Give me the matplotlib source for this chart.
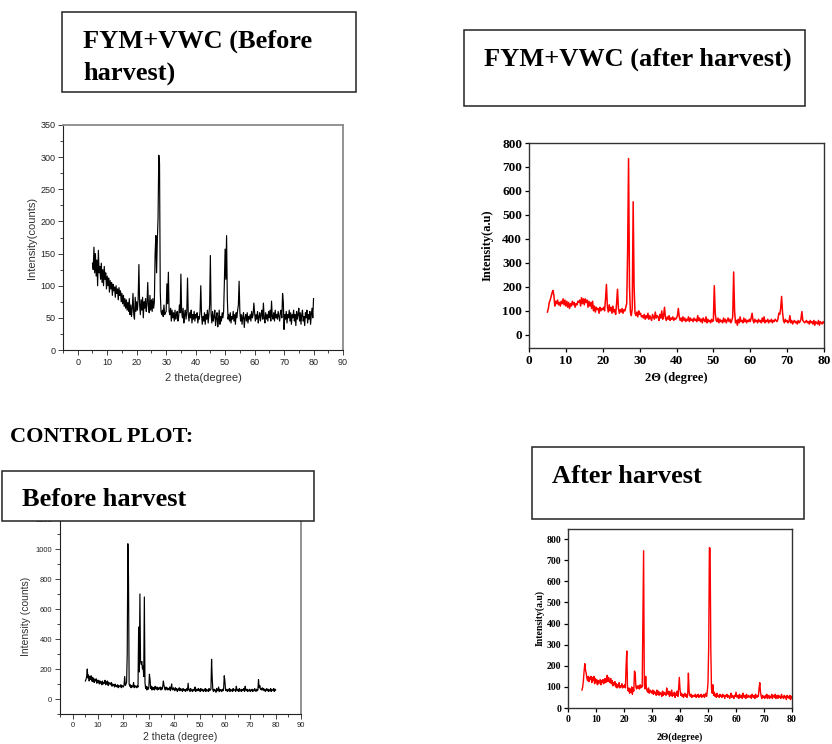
import matplotlib.pyplot as plt
from matplotlib.patches import Rectangle
from matplotlib.ticker import MultipleLocator
import numpy as np

W, H = 832, 744

# 2theta grid of the scans: starts at 5 deg, one value every 0.25 deg up to 80
theta_start = 5.0
theta_step = 0.25

# --- FYM+VWC, before harvest (one row = 5 degrees) ---
fym_before = [
    135, 125, 160, 120, 150, 115, 140, 100, 155, 120, 130, 110, 135, 105, 125, 100, 130, 110, 120, 95,
    115, 100, 112, 90, 108, 95, 105, 85, 102, 92, 98, 82, 100, 88, 95, 78, 97, 85, 92, 75,
    88, 72, 85, 68, 80, 65, 78, 62, 74, 60, 80, 55, 70, 52, 65, 88, 55, 48, 82, 60,
    75, 62, 80, 133, 70, 55, 78, 62, 82, 50, 75, 65, 80, 60, 72, 105, 68, 58, 85, 62,
    78, 60, 80, 65, 75, 150, 178, 120, 170, 205, 303, 290, 90, 60, 55, 62, 52, 70, 55, 58,
    60, 103, 72, 121, 60, 55, 65, 45, 62, 50, 58, 45, 62, 48, 55, 60, 45, 52, 70, 58,
    118, 60, 50, 65, 42, 55, 62, 48, 60, 112, 55, 45, 58, 50, 62, 42, 55, 48, 60, 45,
    55, 50, 58, 42, 52, 48, 60, 100, 55, 40, 52, 45, 58, 40, 55, 48, 62, 42, 55, 70,
    147, 55, 42, 60, 45, 52, 62, 38, 50, 58, 36, 48, 62, 40, 52, 45, 58, 50, 60, 105,
    157, 110, 178, 80, 48, 55, 45, 58, 42, 52, 48, 60, 45, 55, 40, 58, 50, 62, 70, 107,
    60, 45, 55, 40, 52, 58, 35, 50, 55, 45, 58, 42, 52, 48, 55, 45, 60, 50, 55, 73,
    58, 45, 55, 48, 60, 42, 52, 58, 45, 55, 62, 48, 73, 50, 42, 58, 48, 55, 45, 60,
    50, 62, 45, 76, 52, 48, 58, 45, 62, 50, 55, 48, 60, 52, 45, 58, 62, 50, 88, 75,
    32, 55, 48, 60, 42, 55, 50, 62, 45, 58, 40, 55, 50, 62, 45, 55, 38, 60, 48, 55,
    65, 45, 58, 40, 55, 62, 45, 52, 38, 58, 50, 62, 42, 55, 48, 60, 40, 55, 65, 50,
    80,
]

# --- FYM+VWC, after harvest ---
fym_after = [
    95, 110, 135, 145, 160, 175, 185, 165, 120, 140, 130, 145, 125, 135, 120, 140, 130, 150, 125, 145,
    120, 140, 115, 135, 110, 130, 120, 140, 125, 135, 115, 130, 125, 140, 135, 145, 120, 155, 130, 150,
    125, 150, 135, 145, 115, 140, 120, 135, 110, 140, 100, 120, 95, 115, 105, 110, 90, 115, 100, 110,
    105, 115, 100, 150, 210, 120, 95, 125, 100, 115, 90, 120, 95, 105, 85, 130, 190, 110, 90, 105,
    95, 110, 90, 105, 100, 115, 130, 350, 735, 200, 95, 80, 110, 555, 200, 90, 80, 95, 75, 100,
    85, 90, 75, 80, 70, 85, 65, 80, 70, 90, 65, 80, 70, 60, 85, 75, 65, 95, 70, 80,
    75, 60, 85, 70, 100, 65, 80, 115, 70, 60, 75, 65, 80, 60, 70, 65, 75, 60, 70, 65,
    70, 80, 110, 75, 60, 70, 55, 75, 60, 70, 55, 65, 60, 75, 55, 70, 60, 65, 55, 70,
    60, 65, 55, 80, 60, 70, 55, 65, 50, 70, 60, 55, 75, 50, 65, 55, 60, 50, 65, 55,
    60, 205, 90, 60, 55, 70, 50, 65, 55, 60, 50, 70, 55, 65, 50, 60, 70, 55, 65, 50,
    60, 75, 262, 100, 50, 60, 40, 65, 50, 75, 55, 60, 50, 70, 55, 65, 50, 60, 55, 65,
    55, 70, 90, 60, 50, 65, 55, 60, 50, 65, 55, 60, 50, 70, 55, 75, 50, 60, 55, 65,
    50, 60, 55, 65, 50, 60, 55, 65, 60, 55, 65, 90, 85, 110, 160, 95, 60, 50, 65, 55,
    60, 50, 55, 80, 50, 60, 45, 55, 60, 50, 55, 45, 60, 50, 55, 65, 97, 60, 55, 50,
    55, 60, 50, 55, 45, 60, 50, 55, 45, 60, 40, 55, 50, 45, 60, 40, 55, 50, 45, 55,
    50,
]

# --- control plot, before harvest ---
control_before = [
    120, 130, 150, 200, 140, 160, 120, 150, 130, 155, 120, 145, 115, 140, 110, 130, 120, 135, 105, 125,
    110, 125, 100, 120, 105, 115, 95, 120, 100, 110, 105, 125, 95, 115, 100, 120, 90, 110, 100, 105,
    95, 110, 85, 100, 90, 95, 80, 100, 85, 90, 80, 95, 75, 90, 85, 80, 95, 75, 90, 85,
    80, 95, 150, 90, 100, 110, 300, 1035, 820, 100, 85, 95, 75, 90, 80, 85, 110, 75, 90, 80,
    85, 75, 90, 80, 480, 180, 700, 250, 230, 250, 200, 220, 150, 680, 110, 70, 85, 60, 80, 65,
    75, 165, 130, 70, 85, 60, 80, 65, 75, 60, 85, 70, 65, 80, 60, 75, 65, 70, 80, 60,
    75, 65, 85, 120, 90, 70, 60, 80, 65, 75, 60, 70, 65, 80, 55, 70, 100, 65, 60, 75,
    65, 55, 75, 60, 70, 50, 65, 60, 75, 55, 70, 60, 65, 50, 70, 60, 55, 65, 50, 60,
    70, 55, 105, 60, 65, 50, 70, 55, 60, 50, 65, 55, 60, 80, 50, 65, 55, 60, 70, 55,
    65, 50, 70, 60, 55, 65, 50, 60, 55, 70, 50, 65, 55, 60, 50, 70, 55, 60, 65, 265,
    140, 60, 50, 65, 55, 60, 45, 70, 55, 60, 80, 50, 65, 55, 60, 50, 65, 55, 70, 155,
    120, 60, 55, 65, 50, 60, 55, 70, 50, 65, 55, 60, 50, 70, 55, 60, 65, 50, 85, 60,
    55, 65, 50, 70, 55, 60, 50, 65, 55, 60, 70, 50, 85, 60, 55, 65, 50, 60, 55, 65,
    50, 60, 55, 65, 50, 60, 55, 70, 60, 50, 65, 55, 60, 130, 75, 90, 65, 70, 60, 75,
    60, 70, 55, 65, 50, 60, 70, 55, 65, 50, 60, 55, 70, 50, 65, 60, 55, 70, 50, 65,
    60,
]

# --- control plot, after harvest ---
control_after = [
    85, 100, 130, 175, 210, 180, 165, 140, 130, 150, 125, 145, 135, 150, 120, 145, 130, 150, 115, 140,
    120, 135, 110, 130, 115, 125, 135, 110, 130, 120, 135, 115, 125, 140, 120, 135, 155, 125, 145, 130,
    120, 140, 115, 130, 105, 120, 110, 125, 100, 115, 95, 110, 100, 120, 95, 105, 100, 115, 95, 105,
    100, 110, 95, 200, 270, 100, 80, 95, 70, 90, 75, 100, 65, 95, 80, 175, 165, 100, 90, 105,
    95, 105, 90, 110, 95, 105, 100, 430, 745, 110, 90, 150, 95, 80, 75, 95, 70, 85, 75, 80,
    70, 85, 65, 80, 70, 75, 60, 85, 65, 80, 60, 75, 65, 70, 55, 80, 60, 75, 65, 70,
    60, 95, 70, 65, 80, 55, 75, 60, 85, 55, 70, 60, 75, 50, 70, 60, 80, 55, 90, 145,
    90, 60, 70, 55, 65, 50, 60, 70, 55, 65, 50, 60, 165, 80, 60, 55, 65, 50, 60, 55,
    60, 55, 65, 50, 60, 55, 65, 50, 60, 55, 65, 50, 60, 55, 65, 50, 60, 70, 55, 80,
    120, 290, 760, 755, 280, 90, 70, 110, 60, 75, 55, 65, 50, 70, 55, 60, 50, 65, 55, 60,
    50, 65, 55, 60, 45, 60, 55, 65, 50, 60, 55, 45, 60, 70, 50, 60, 55, 45, 60, 55,
    75, 55, 50, 60, 45, 65, 55, 50, 60, 45, 70, 55, 50, 60, 45, 65, 55, 50, 60, 55,
    50, 60, 45, 65, 55, 50, 60, 45, 65, 55, 50, 60, 55, 95, 120, 75, 55, 45, 60, 50,
    55, 45, 60, 50, 65, 45, 55, 60, 45, 55, 50, 65, 45, 60, 55, 50, 65, 45, 55, 60,
    45, 60, 50, 55, 45, 65, 50, 55, 45, 60, 50, 55, 40, 60, 50, 55, 45, 60, 40, 55,
    50,
]

SANS = 'Liberation Sans'
SERIF = 'Liberation Serif'

fig = plt.figure(figsize=(W / 100, H / 100), dpi=100)


def add_axes_px(left, top, right, bottom):
    return fig.add_axes([left / W, 1 - bottom / H, (right - left) / W, (bottom - top) / H])


def title_box(x0, y0, x1, y1):
    fig.patches.append(Rectangle((x0 / W, 1 - y1 / H), (x1 - x0) / W, (y1 - y0) / H,
                                 transform=fig.transFigure, facecolor='white',
                                 edgecolor='#222222', linewidth=1.1, zorder=2))


def title_text(x, y, s, size=19):
    fig.text(x / W, 1 - y / H, s, family=SERIF, weight='bold', fontsize=size,
             ha='left', va='baseline', zorder=3)


def two_theta(y):
    return theta_start + theta_step * np.arange(len(y))


def origin_style(ax, ylim, ymajor, yminor, ylabel, xlabel, ylab_x, xlab_y, tick_fs, lab_fs):
    ax.set_xlim(-5, 90)
    ax.set_ylim(*ylim)
    ax.xaxis.set_major_locator(MultipleLocator(10))
    ax.xaxis.set_minor_locator(MultipleLocator(5))
    ax.yaxis.set_major_locator(MultipleLocator(ymajor))
    ax.yaxis.set_minor_locator(MultipleLocator(yminor))
    ax.tick_params(which='both', direction='out', top=False, right=False,
                   width=0.6, labelsize=tick_fs, colors='#222222', pad=2)
    ax.tick_params(which='major', length=3.5)
    ax.tick_params(which='minor', length=2)
    for lab in ax.get_xticklabels() + ax.get_yticklabels():
        lab.set_family(SANS)
    for side in ('left', 'bottom'):
        ax.spines[side].set_color('#222222')
        ax.spines[side].set_linewidth(0.8)
    for side in ('top', 'right'):
        ax.spines[side].set_color('#8a8a8a')
        ax.spines[side].set_linewidth(1.3)
    ax.set_ylabel(ylabel, family=SANS, fontsize=lab_fs, color='#333333', va='center')
    ax.set_xlabel(xlabel, family=SANS, fontsize=lab_fs, color='#333333', va='center')
    ax.yaxis.set_label_coords(ylab_x, 0.5)
    ax.xaxis.set_label_coords(0.5, xlab_y)


def red_style(ax, ylim, ylabel, xlabel, ylab_x, xlab_y, tick_fs, lab_fs):
    ax.set_xlim(0, 80)
    ax.set_ylim(*ylim)
    ax.xaxis.set_major_locator(MultipleLocator(10))
    ax.yaxis.set_major_locator(MultipleLocator(100))
    ax.tick_params(direction='out', length=3, width=0.9, labelsize=tick_fs, pad=2)
    for lab in ax.get_xticklabels() + ax.get_yticklabels():
        lab.set_family(SERIF)
        lab.set_weight('bold')
    for sp in ax.spines.values():
        sp.set_color('#333333')
        sp.set_linewidth(1.0)
    ax.set_ylabel(ylabel, family=SERIF, weight='bold', fontsize=lab_fs, va='center')
    ax.set_xlabel(xlabel, family=SERIF, weight='bold', fontsize=lab_fs, va='center')
    ax.yaxis.set_label_coords(ylab_x, 0.5)
    ax.xaxis.set_label_coords(0.5, xlab_y)


# --- top left: FYM+VWC before harvest ---
ax1 = add_axes_px(63, 125, 343, 350)
ax1.plot(two_theta(fym_before), fym_before, color='black', linewidth=0.85)
origin_style(ax1, (0, 350), 50, 25, 'Intensity(counts)', '2 theta(degree)',
             -0.111, -0.124, 6.5, 8)

# --- top right: FYM+VWC after harvest ---
ax2 = add_axes_px(529, 143, 824, 348)
ax2.plot(two_theta(fym_after), fym_after, color='#ff0000', linewidth=1.1)
red_style(ax2, (-55, 800), 'Intensity(a.u)', '2\u0398 (degree)', -0.139, -0.146, 9.5, 9)

# --- bottom left: control before harvest ---
ax3 = add_axes_px(60, 519, 301, 714)
ax3.plot(two_theta(control_before), control_before, color='black', linewidth=0.85)
origin_style(ax3, (-100, 1200), 200, 100, 'Intensity (counts)', '2 theta (degree)',
             -0.141, -0.118, 5.5, 7.5)

# --- bottom right: control after harvest ---
ax4 = add_axes_px(568, 529, 792, 708)
ax4.plot(two_theta(control_after), control_after, color='#ff0000', linewidth=1.0)
red_style(ax4, (0, 848), 'Intensity(a.u)', '2\u0398(degree)', -0.125, -0.162, 7, 7)

# --- title boxes and headings ---
title_box(62, 12, 356, 92)
title_text(83, 48, 'FYM+VWC (Before')
title_text(83, 80, 'harvest)')

title_box(464, 30, 805, 106)
title_text(484, 66, 'FYM+VWC (after harvest)')

title_text(10, 442, 'CONTROL PLOT:', size=16)

title_box(2, 471, 314, 521)
title_text(22, 506, 'Before harvest')

title_box(532, 447, 804, 519)
title_text(552, 483, 'After harvest')

fig.savefig('out.png', dpi=100)
